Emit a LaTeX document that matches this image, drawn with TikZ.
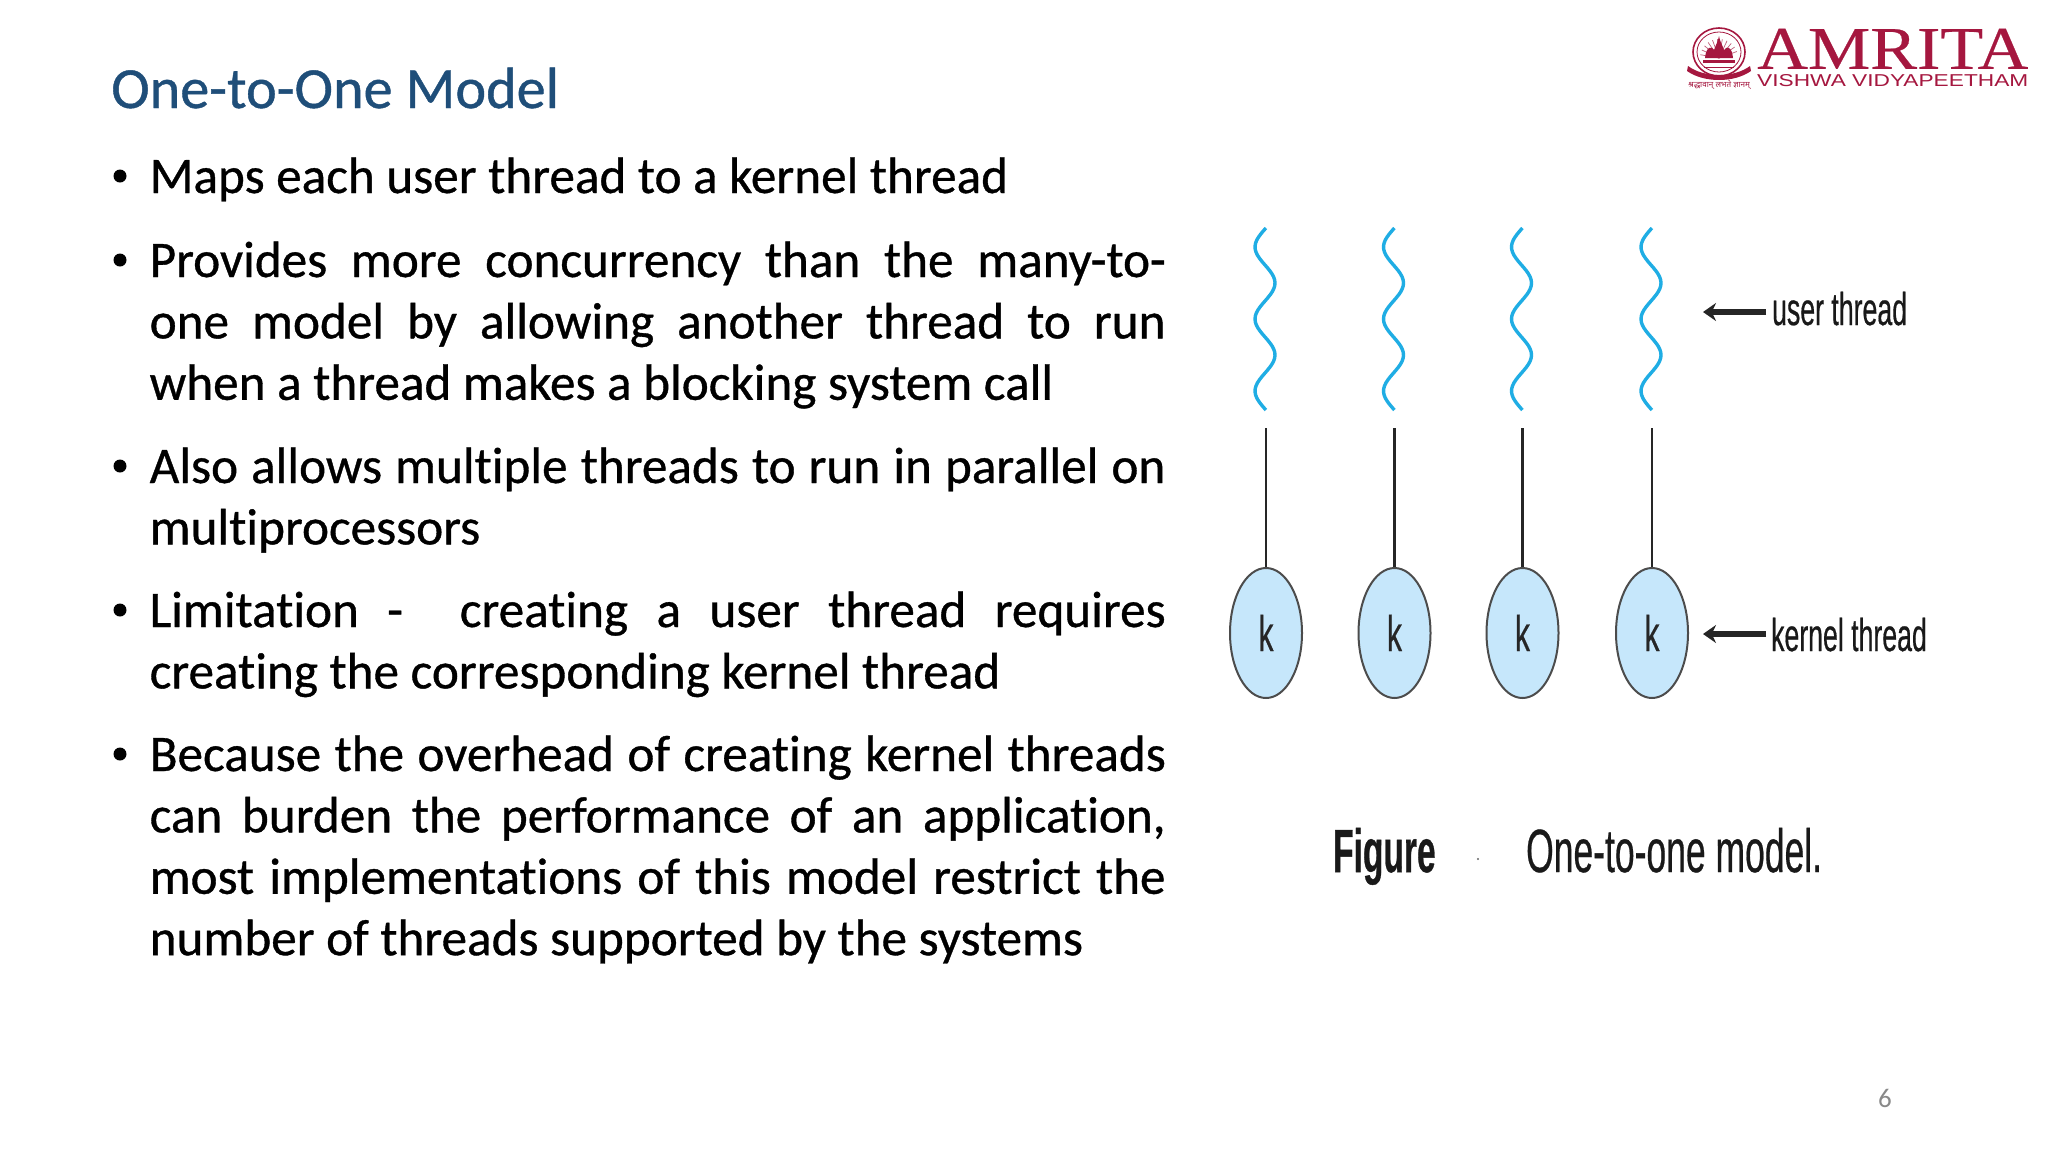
\documentclass[tikz,border=0pt]{standalone}
\usepackage{fontspec}
\usepackage{graphicx}
\setmainfont[Ligatures=NoCommon,FakeBold=0.7]{Carlito}
\newfontfamily\titlefont[Ligatures=NoCommon,FakeBold=0.7]{Carlito}
\newfontfamily\pagefont{Carlito}
\newfontfamily\figfont[FakeBold=0.6]{Liberation Sans}
\newfontfamily\figboldfont[FakeBold=0.8]{Liberation Sans Bold}
\newfontfamily\logofont[FakeBold=0.4]{Liberation Serif}
\newfontfamily\logosans{Liberation Sans}
\newfontfamily\devafont[Script=Devanagari]{Noto Sans}
\usetikzlibrary{shapes.geometric,arrows.meta}
\definecolor{titleblue}{HTML}{1F4E79}
\definecolor{logored}{HTML}{A5173F}
\definecolor{kfill}{HTML}{C6E7FB}
\definecolor{wavecol}{HTML}{1FADE4}
\definecolor{pagegray}{HTML}{898989}
\tikzset{
  kernelnode/.style={ellipse,draw=black!70,line width=2pt,fill=kfill,minimum width=72pt,minimum height=130pt,inner sep=0pt},
  klabel/.style={font=\figfont\fontsize{50}{50}\selectfont,text=black!85,xscale=.6,inner sep=0pt,anchor=base},
  figlabel/.style={font=\figfont\fontsize{46}{46}\selectfont,text=black!90,xscale=.58,inner sep=0pt,anchor=base west},
  capfont/.style={font=\figfont\fontsize{61}{61}\selectfont,text=black!90,inner sep=0pt,anchor=base west},
  threadline/.style={draw=black!85,line width=2.6pt},
  wavepath/.style={draw=wavecol,line width=3.4pt},
  pointer/.style={draw=black!85,line width=5.5pt,-{Stealth[length=13pt,width=18pt]}},
  bodytext/.style={inner sep=0pt,anchor=base west},
  titletext/.style={inner sep=0pt,anchor=base west,font=\titlefont\fontsize{58.2}{70}\selectfont},
  bulletdot/.style={circle,fill=black,inner sep=0pt,minimum size=13pt},
  logoline/.style={draw=logored,line width=1pt},
}
\newcommand{\parabody}[1]{\parbox[t]{1016pt}{\hyphenpenalty=10000 \tolerance=9999 \emergencystretch=20pt \frenchspacing\fontsize{51.2}{61.4}\selectfont #1}}
% name, baseline y, text
\newcommand{\slidepara}[3]{%
  \node[bulletdot] (b#1) at (120,#2-17) {};
  \node[bodytext] (p#1) at (149.5,#2) {\parabody{#3}};
}
\newcommand{\threadcol}[2]{%
  \draw[wavepath] plot[smooth,domain=228:410,samples=61] ({#2-1+10*cos(5*(\x-283))},\x);
  \coordinate (top#1) at (#2,428);
  \node[kernelnode] (k#1) at (#2,633) {};
  \node[klabel] (kt#1) at (#2,651) {k};
  \draw[threadline] (top#1) -- (k#1.north);
}
\begin{document}
\begin{tikzpicture}[x=1pt,y=-1pt]
\useasboundingbox[fill=white] (0,0) rectangle (2048,1152);
% title
\node[titletext,text=titleblue] (title) at (111,108) {One-to-One Model};
% body
\slidepara{1}{193}{Maps each user thread to a kernel thread}
\slidepara{2}{277}{Provides more concurrency than the many-to-\linebreak one model by allowing another thread to run\linebreak when a thread makes a blocking system call}
\slidepara{3}{483}{Also allows multiple threads to run in parallel on multiprocessors}
\slidepara{4}{627}{Limitation - \ creating a user thread requires creating the corresponding kernel thread}
\slidepara{5}{771}{Because the overhead of creating kernel threads can burden the performance of an application, most implementations of this model restrict the number of threads supported by the systems}
% threads
\threadcol{1}{1266}
\threadcol{2}{1394.5}
\threadcol{3}{1522.5}
\threadcol{4}{1652}
% labels
\node[figlabel] (ulab) at (1772,325) {user thread};
\coordinate (utip) at (1703,312);
\coordinate (ustart) at (1766,312);
\draw[pointer] (ustart) -- (utip);
\node[figlabel] (klab) at (1771,651) {kernel thread};
\coordinate (ktip) at (1703,634);
\coordinate (kstart) at (1766,634);
\draw[pointer] (kstart) -- (ktip);
% caption
\node[capfont,font=\figboldfont\fontsize{61}{61}\selectfont,xscale=.55] (figword) at (1333,872) {Figure};
\node[capfont,xscale=.582] (figcap) at (1526,872) {One-to-one model.};
\fill[black!60] (1478,859) circle (1.2pt);
% page number
\node[inner sep=0pt,anchor=base,text=pagegray,font=\pagefont\fontsize{27}{30}\selectfont] (pagenum) at (1885,1107) {6};
% logo wordmark
\node[inner sep=0pt,anchor=south west,text=logored] (amrita) at (1757,69) {\resizebox{271pt}{40pt}{\logofont AMRITA}};
\node[inner sep=0pt,anchor=south west,text=logored] (vishwa) at (1757,87) {\resizebox{271pt}{12pt}{\logosans VISHWA VIDYAPEETHAM}};
% logo seal
\draw[logoline,line width=1.6pt] (1719,52) ellipse (26 and 24);
\draw[logoline,line width=.8pt] (1719,52) ellipse (22 and 20);
\foreach \a in {-170,-155,...,-10}{\draw[logored!70,line width=.7pt] (1719,58) -- ++(\a:19);}
\fill[logored] (1705,58) .. controls (1706,46) and (1712,46) .. (1714,50) .. controls (1716,44) and (1718,42) .. (1719,36) .. controls (1720,42) and (1722,44) .. (1724,50) .. controls (1726,46) and (1732,46) .. (1733,58) -- cycle;
\fill[logored] (1703,60) rectangle (1735,63);
\draw[logored,line width=1pt] (1704,67) -- (1734,67);
\fill[logored] (1688,66) .. controls (1704,78) and (1734,78) .. (1750,66) -- (1751,71) .. controls (1734,83) and (1704,83) .. (1687,71) -- cycle;
\node[inner sep=0pt,text=logored,anchor=base] (motto) at (1719,87) {\resizebox{62pt}{!}{\devafont श्रद्धावान् लभते ज्ञानम्}};
\end{tikzpicture}
\end{document}
